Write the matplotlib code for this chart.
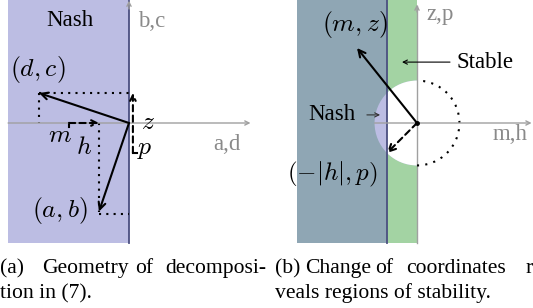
import numpy as np
import matplotlib
matplotlib.use("Agg")
import matplotlib.pyplot as plt
from matplotlib.patches import Rectangle, Wedge, Arc

plt.rcParams['font.family'] = ['Liberation Serif', 'DejaVu Serif']
plt.rcParams['mathtext.fontset'] = 'cm'

# --- panel (a): decomposition vectors (units) ---
vec_dc = [-3.0, 1.0]     # (d, c)
vec_ab = [-1.0, -2.95]   # (a, b)
m_val, h_val = -2.0, 1.0
z_val, p_val = -1.0, 2.0

# --- panel (b): change of coordinates ---
vec_mz = [-2.0, 2.5]     # (m, z)
vec_hp = [-1.0, -1.0]    # (-|h|, p)
radius = np.sqrt(2.0)
nash_left, stable_left = -4.0, -1.0

LAV = '#bcbde3'
BLUE = '#8fa6b4'
GREEN = '#a3d3a3'
EDGE = '#4b4f80'
GRAY = '#a0a0a0'
TXT_GRAY = '#8a8a8a'
FS = 16.5      # plain labels
FS_M = 18.5    # math labels
FS_CAP = 15.6  # captions

fig = plt.figure(figsize=(5.33, 3.08), dpi=100)
W, H = 533, 308
unit = 30.0


def make_ax(x0, x1, ox):
    ax = fig.add_axes([x0 / W, (H - 250) / H, (x1 - x0) / W, 250 / H])
    ax.set_xlim((x0 - ox) / unit, (x1 - ox) / unit)
    ax.set_ylim((123 - 250) / unit, 123 / unit)
    ax.axis('off')
    return ax


def arrow(ax, start, end, **kw):
    style = kw.pop('style', '->')
    ax.annotate('', xy=end, xytext=start,
                arrowprops=dict(arrowstyle=style, shrinkA=0, shrinkB=0, **kw))


# ================= panel (a) =================
ax = make_ax(0, 270, 129)
top, bot = 123 / unit, (123 - 243) / unit
ax.add_patch(Rectangle((-4.03, bot), 4.03, top - bot + 0.2, color=LAV, lw=0, zorder=0))
ax.plot([0, 0], [bot, top - 0.05], color=EDGE, lw=1.3, zorder=1)
arrow(ax, (0, top - 0.3), (0, top - 0.02), color=GRAY, lw=1.0, style='->,head_length=0.3,head_width=0.15')
arrow(ax, (-4.03, 0), (4.05, 0), color=GRAY, lw=1.0, style='->,head_length=0.3,head_width=0.15')

# dotted projections
dot = (0, (1, 2.5))
ax.plot([vec_dc[0], 0], [vec_dc[1], vec_dc[1]], color='k', ls=dot, lw=1.5)
ax.plot([vec_dc[0], vec_dc[0]], [vec_dc[1], 0], color='k', ls=dot, lw=1.5)
ax.plot([vec_ab[0], vec_ab[0]], [0, vec_ab[1]], color='k', ls=dot, lw=1.5)
ax.plot([vec_ab[0], 0], [vec_ab[1] - 0.07, vec_ab[1] - 0.07], color='k', ls=dot, lw=1.5)

# solid vectors
arrow(ax, (0, 0), vec_dc, color='k', lw=1.5, style='->,head_length=0.5,head_width=0.25')
arrow(ax, (0, 0), vec_ab, color='k', lw=1.5, style='->,head_length=0.5,head_width=0.25')

# dashed m/h and z/p arrows, with a small tick at the start
arrow(ax, (m_val, 0), (m_val + h_val, 0), color='k', lw=1.5, ls=(0, (3, 2)),
      style='->,head_length=0.4,head_width=0.2')
ax.plot([m_val, m_val], [0, -0.15], color='k', lw=1.5)
arrow(ax, (0.13, z_val), (0.13, z_val + p_val), color='k', lw=1.5, ls=(0, (3, 2)),
      style='->,head_length=0.4,head_width=0.2')
ax.plot([0.13, 0.25], [z_val, z_val], color='k', lw=1.5)

ax.text(-1.97, 3.43, 'Nash', fontsize=FS, ha='center', va='center')
ax.text(0.3, 3.37, 'b,c', fontsize=FS, ha='left', va='center', color=TXT_GRAY)
ax.text(-3.03, 1.77, '$(d,c)$', fontsize=FS_M, ha='center', va='center')
ax.text(0.63, 0.0, '$z$', fontsize=FS_M, ha='center', va='center')
ax.text(3.27, -0.73, 'a,d', fontsize=FS, ha='center', va='center', color=TXT_GRAY)
ax.text(-2.3, -0.43, '$m$', fontsize=FS_M, ha='center', va='center')
ax.text(-1.5, -0.83, '$h$', fontsize=FS_M, ha='center', va='center')
ax.text(0.53, -0.9, '$p$', fontsize=FS_M, ha='center', va='center')
ax.text(-2.3, -2.9, '$(a,b)$', fontsize=FS_M, ha='center', va='center')

# ================= panel (b) =================
bx = make_ax(270, 533, 417)
bx.add_patch(Rectangle((nash_left, bot), stable_left - nash_left, top - bot + 0.2,
                       color=BLUE, lw=0, zorder=0))
bx.add_patch(Rectangle((stable_left, bot), -stable_left, top - bot + 0.2,
                       color=GREEN, lw=0, zorder=0))
bx.add_patch(Wedge((0, 0), radius, 90, 270, color=LAV, lw=0, zorder=1))
white = Wedge((0, 0), radius, 90, 270, color='white', lw=0, zorder=1)
bx.add_patch(white)
clip = Rectangle((stable_left, -5), 5, 10, transform=bx.transData)
white.set_clip_path(clip)
bx.add_patch(Arc((0, 0), 2 * radius, 2 * radius, theta1=-90, theta2=90,
                 color='k', lw=1.5, ls=(0, (1, 3)), zorder=2))
bx.plot([stable_left, stable_left], [bot, top], color=EDGE, lw=1.3, zorder=2)
bx.plot([0, 0], [bot, top - 0.2], color=GRAY, lw=1.0, zorder=1.5)
arrow(bx, (0, top - 0.4), (0, top - 0.15), color=GRAY, lw=1.0, style='->,head_length=0.3,head_width=0.15')
arrow(bx, (-radius, 0), (3.82, 0), color=GRAY, lw=1.0, style='->,head_length=0.3,head_width=0.15')

arrow(bx, (0, 0), vec_mz, color='k', lw=1.5, style='->,head_length=0.5,head_width=0.25')
arrow(bx, (0, 0), vec_hp, color='k', lw=1.5, ls=(0, (3, 2)),
      style='->,head_length=0.5,head_width=0.25')
bx.plot([0], [0], 'o', color='k', ms=2.5, zorder=5)

arrow(bx, (1.1, 2.03), (-0.5, 2.03), color='k', lw=0.8, style='->,head_length=0.3,head_width=0.15')
arrow(bx, (-1.67, 0.27), (-1.23, 0.27), color='#333333', lw=0.8, style='->,head_length=0.3,head_width=0.15')

bx.text(-2.07, 3.27, '$(m,z)$', fontsize=FS_M, ha='center', va='center')
bx.text(0.33, 3.6, 'z,p', fontsize=FS, ha='left', va='center', color=TXT_GRAY)
bx.text(2.27, 2.03, 'Stable', fontsize=FS, ha='center', va='center')
bx.text(-2.83, 0.27, 'Nash', fontsize=FS, ha='center', va='center')
bx.text(3.1, -0.4, 'm,h', fontsize=FS, ha='center', va='center', color=TXT_GRAY)
bx.text(-2.83, -1.73, r'$(-|h|,p)$', fontsize=FS_M - 0.5, ha='center', va='center')

# ================= captions =================
cap_a1 = [('(a)', 0), ('Geometry', 42), ('of', 135), ('decomposi-', 165)]
cap_b1 = [('(b)', 275), ('Change', 305), ('of', 375), ('coordinates', 406), ('r', 525)]
for word, x in cap_a1 + cap_b1:
    fig.text(x / W, (H - 273) / H, word, fontsize=FS_CAP, ha='left', va='baseline')
fig.text(0 / W, (H - 298) / H, 'tion in (7).', fontsize=FS_CAP, ha='left', va='baseline')
fig.text(275 / W, (H - 298) / H, 'veals regions of stability.', fontsize=FS_CAP, ha='left', va='baseline')

fig.savefig('out.png', dpi=100)
